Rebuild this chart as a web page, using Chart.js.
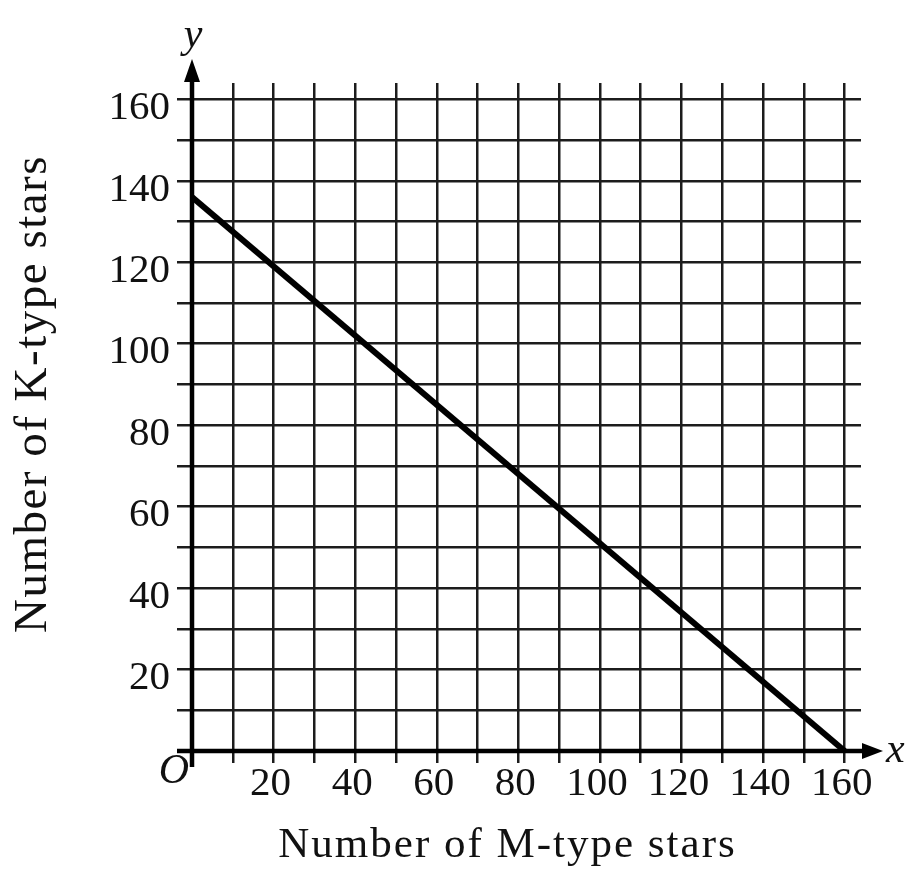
<!DOCTYPE html>
<html>
<head>
<meta charset="utf-8">
<script src="https://cdn.jsdelivr.net/npm/chart.js@4.4.1/dist/chart.umd.min.js"></script>
<style>
  html, body { margin: 0; padding: 0; background: #ffffff; }
  #wrap { width: 916px; height: 876px; position: relative; }
</style>
</head>
<body>
<div id="wrap"><canvas id="c"></canvas></div>
<script>
// ---- data ----
const mStars = [0, 160];          // x values (Number of M-type stars)
const kStars = [136, 0];          // y values (Number of K-type stars)
const gridValues = [0, 10, 20, 30, 40, 50, 60, 70, 80, 90, 100, 110, 120, 130, 140, 150, 160];
const xTickLabels = [20, 40, 60, 80, 100, 120, 140, 160];
const yTickLabels = [20, 40, 60, 80, 100, 120, 140, 160];
const xTitle = 'Number of M-type stars';
const yTitle = 'Number of K-type stars';
const axisMax = 164;

const INK = '#111111';
const SERIF = '"Liberation Serif", "DejaVu Serif", serif';

const points = mStars.map((x, i) => ({ x: x, y: kStars[i] }));

const axesPlugin = {
  id: 'mathAxes',
  afterDraw(chart) {
    const ctx = chart.ctx;
    const xs = chart.scales.x, ys = chart.scales.y;
    const area = chart.chartArea;
    const x0 = xs.getPixelForValue(0);
    const y0 = ys.getPixelForValue(0);
    ctx.save();
    ctx.strokeStyle = '#000';
    ctx.fillStyle = '#000';
    ctx.lineWidth = 4.5;
    ctx.lineCap = 'butt';
    // y axis
    ctx.beginPath();
    ctx.moveTo(x0, y0 + 16);
    ctx.lineTo(x0, area.top - 8);
    ctx.stroke();
    ctx.beginPath();
    ctx.moveTo(x0, area.top - 24);
    ctx.lineTo(x0 - 8, area.top - 1);
    ctx.lineTo(x0 + 8, area.top - 1);
    ctx.closePath();
    ctx.fill();
    // x axis
    ctx.beginPath();
    ctx.moveTo(x0 - 15, y0);
    ctx.lineTo(area.right + 8, y0);
    ctx.stroke();
    ctx.beginPath();
    ctx.moveTo(area.right + 22, y0);
    ctx.lineTo(area.right + 1, y0 - 8);
    ctx.lineTo(area.right + 1, y0 + 8);
    ctx.closePath();
    ctx.fill();

    // italic axis letters and origin
    ctx.fillStyle = INK;
    ctx.font = 'italic 42px ' + SERIF;
    ctx.textAlign = 'center';
    ctx.textBaseline = 'alphabetic';
    ctx.fillText('y', x0 + 1, area.top - 36);
    ctx.textAlign = 'left';
    ctx.fillText('x', area.right + 25, y0 + 11);
    ctx.textAlign = 'right';
    ctx.fillText('O', x0 - 3, y0 + 32);

    // axis titles
    ctx.fillStyle = INK;
    ctx.textAlign = 'center';
    ctx.textBaseline = 'alphabetic';
    ctx.font = '43px ' + SERIF;
    ctx.letterSpacing = '2px';
    ctx.fillText(xTitle, (area.left + area.right) / 2 - 19, y0 + 106);
    ctx.save();
    ctx.translate(46, (area.top + area.bottom) / 2 - 23);
    ctx.rotate(-Math.PI / 2);
    ctx.font = '47px ' + SERIF;
    ctx.letterSpacing = '1.5px';
    ctx.fillText(yTitle, 0, 0);
    ctx.restore();
    ctx.restore();
  }
};

new Chart(document.getElementById('c'), {
  type: 'line',
  data: {
    datasets: [{
      data: points,
      borderColor: '#000',
      borderWidth: 6,
      pointRadius: 0,
      fill: false,
      tension: 0
    }]
  },
  options: {
    responsive: true,
    maintainAspectRatio: false,
    animation: false,
    layout: { padding: { top: 83, right: 55, left: 0, bottom: 0 } },
    plugins: { legend: { display: false }, tooltip: { enabled: false }, title: { display: false } },
    scales: {
      x: {
        type: 'linear',
        min: 0,
        max: axisMax,
        afterBuildTicks: s => { s.ticks = gridValues.map(v => ({ value: v })); },
        afterFit: s => { s.height = 125; },
        border: { display: false },
        grid: { color: '#1c1c1c', lineWidth: 2.5, tickLength: 12, drawTicks: true, tickColor: '#1c1c1c', tickWidth: 2.5 },
        ticks: {
          autoSkip: false,
          maxRotation: 0,
          padding: 1,
          labelOffset: -3,
          color: INK,
          font: { family: SERIF, size: 41, lineHeight: 1 },
          callback: v => xTickLabels.includes(v) ? String(v) : ''
        }
      },
      y: {
        type: 'linear',
        min: 0,
        max: axisMax,
        afterBuildTicks: s => { s.ticks = gridValues.map(v => ({ value: v })); },
        afterFit: s => { s.width = 192; },
        border: { display: false },
        grid: { color: '#1c1c1c', lineWidth: 2.5, tickLength: 15, drawTicks: true, tickColor: '#1c1c1c', tickWidth: 2.5 },
        ticks: {
          autoSkip: false,
          padding: 7,
          labelOffset: 9,
          color: INK,
          font: { family: SERIF, size: 41, lineHeight: 1 },
          callback: v => yTickLabels.includes(v) ? String(v) : ''
        }
      }
    }
  },
  plugins: [axesPlugin]
});
</script>
</body>
</html>
